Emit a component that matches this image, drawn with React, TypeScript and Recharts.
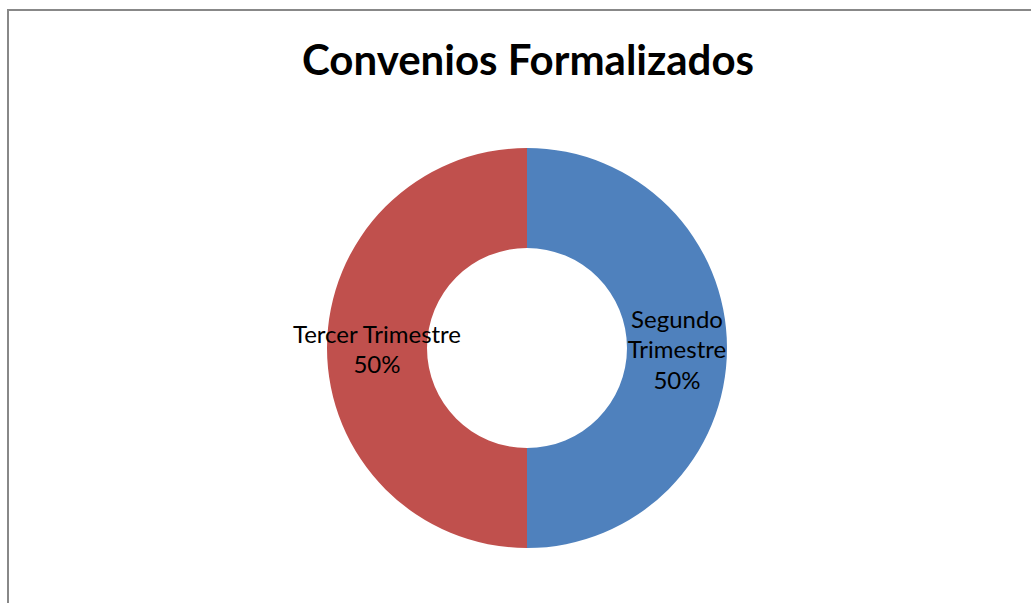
import { PieChart, Pie, Cell } from 'recharts';

const categories = ['Segundo Trimestre', 'Tercer Trimestre'];
const values = [50, 50];
const colors = ['#4F81BD', '#C0504D'];
const wrapWords = [true, false];

const data = categories.map((name, i) => ({ name, value: values[i] }));
const total = values.reduce((a, b) => a + b, 0);

const RADIAN = Math.PI / 180;

const renderLabel = (props: any) => {
  const { cx, cy, midAngle, innerRadius, outerRadius, index, name, value } = props;
  const r = (innerRadius + outerRadius) / 2;
  const x = cx + r * Math.cos(-midAngle * RADIAN);
  const y = cy + r * Math.sin(-midAngle * RADIAN);
  const pct = `${Math.round((value / total) * 100)}%`;
  const lines = wrapWords[index] ? [...name.split(' '), pct] : [name, pct];
  const lh = 30.5;
  const startY = y - ((lines.length - 1) * lh) / 2;
  return (
    <text
      x={x}
      y={startY}
      textAnchor="middle"
      dominantBaseline="central"
      fill="#000"
      fontSize={24}
      fontFamily="Lato, 'Open Sans', sans-serif"
    >
      {lines.map((l, i) => (
        <tspan key={i} x={x} y={startY + i * lh}>
          {l}
        </tspan>
      ))}
    </text>
  );
};

export default function App() {
  return (
    <div style={{ position: 'absolute', left: 0, top: 0, width: 1031, height: 603, overflow: 'hidden', background: '#fff' }}>
      <div
        style={{
          position: 'absolute',
          left: 7,
          top: 9,
          width: 1040,
          height: 620,
          border: '2px solid #888888',
          boxSizing: 'border-box',
        }}
      />
      <div
        style={{
          position: 'absolute',
          left: 0,
          width: 1056,
          top: 33,
          textAlign: 'center',
          fontFamily: "Lato, 'Open Sans', sans-serif",
          fontWeight: 'bold',
          fontSize: 42,
          lineHeight: '52px',
          color: '#000',
        }}
      >
        Convenios Formalizados
      </div>
      <div style={{ position: 'absolute', left: 0, top: 0 }}>
        <PieChart width={1031} height={603} margin={{ top: 0, right: 0, bottom: 0, left: 0 }}>
          <Pie
            data={data}
            dataKey="value"
            nameKey="name"
            cx={527}
            cy={348}
            innerRadius={100}
            outerRadius={200}
            startAngle={90}
            endAngle={-270}
            stroke="none"
            label={renderLabel}
            labelLine={false}
            isAnimationActive={false}
          >
            {data.map((_, i) => (
              <Cell key={i} fill={colors[i]} />
            ))}
          </Pie>
        </PieChart>
      </div>
    </div>
  );
}
